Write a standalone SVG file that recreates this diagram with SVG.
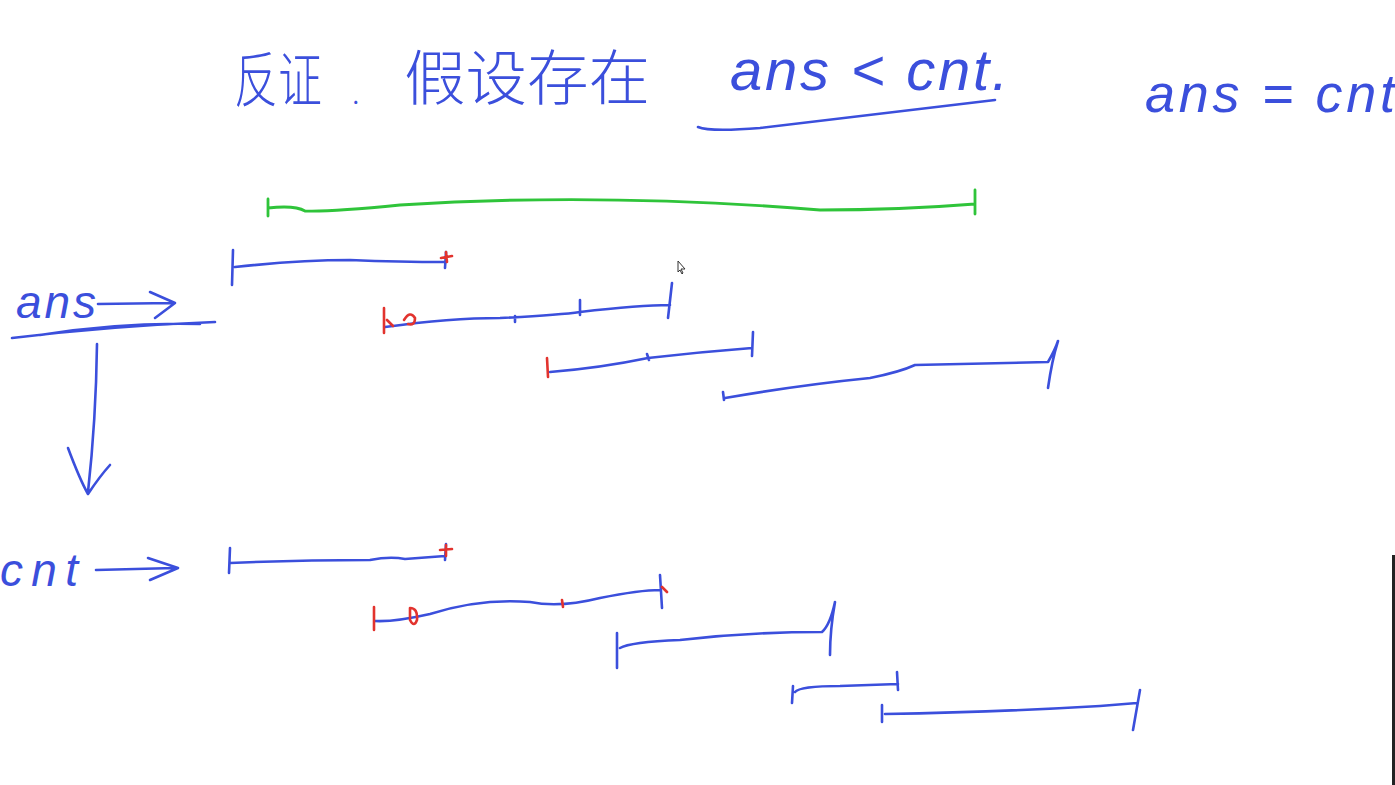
<svg xmlns="http://www.w3.org/2000/svg" width="1395" height="785" viewBox="0 0 1395 785">
<style>
.b{fill:none;stroke:#3b4fdc;stroke-width:2.6;stroke-linecap:round;stroke-linejoin:round}
.r{fill:none;stroke:#e2332e;stroke-width:2.6;stroke-linecap:round;stroke-linejoin:round}
.g{fill:none;stroke:#2fc43a;stroke-width:2.8;stroke-linecap:round;stroke-linejoin:round}
.t{fill:#3b4fdc;font-family:"Liberation Sans","Noto Sans CJK SC",sans-serif;font-style:italic}
.c{fill:#3b4fdc;font-family:"Noto Sans CJK SC",sans-serif;font-weight:300}
</style>
<rect width="1395" height="785" fill="#ffffff"/>
<g id="title">
<text class="c" x="234" y="102" font-size="60" textLength="88" lengthAdjust="spacingAndGlyphs">反证</text>
<text class="c" x="352" y="104" font-size="30">.</text>
<text class="c" x="404" y="100" font-size="60" textLength="246" lengthAdjust="spacingAndGlyphs">假设存在</text>
<text class="t" x="730" y="90" font-size="58" textLength="278">ans &lt; cnt.</text>
<path class="b" d="M698,127 Q710,132 760,128 Q880,114 995,100"/>
</g>
<g id="note">
<text class="t" x="1145" y="112" font-size="54" textLength="250">ans = cnt</text>
</g>
<g id="ans-label">
<text class="t" x="16" y="318" font-size="46" textLength="80">ans</text>
<path class="b" d="M98,304 L172,303 M150,292 L175,303 L155,318"/>
<path class="b" d="M12,338 Q110,326 215,322 M40,335 Q120,322 200,324"/>
<path class="b" d="M97,344 Q96,420 88,492 M68,448 Q80,480 88,494 Q100,476 110,465"/>
</g>
<g id="cnt-label">
<text class="t" x="0" y="586" font-size="46" textLength="78">cnt</text>
<path class="b" d="M96,570 L175,568 M148,558 L178,568 L150,580"/>
</g>
<g id="connectors">
<path class="g" d="M268,199 L268,216 M268,208 Q295,205 305,211 Q330,212 400,205 Q600,192 820,210 Q900,210 975,204 M975,190 L975,214"/>
<path class="b" d="M233,250 L232,285 M235,267 Q300,260 350,260 Q400,262 445,262 M446,252 L445,268"/>
<path class="r" d="M441,258 L452,256 M446,252 L447,262"/>
<path class="b" d="M385,327 Q450,318 500,318 Q560,315 580,312 Q640,305 670,305 M672,283 L668,318 M580,300 L580,315 M515,316 L515,322"/>
<path class="r" d="M384,308 L384,333 M387,320 L393,326 M404,320 Q410,310 415,318 Q415,326 408,324"/>
<path class="b" d="M550,372 Q600,368 648,358 Q700,352 752,348 M753,332 L752,356 M647,354 L649,360"/>
<path class="r" d="M547,358 L548,377"/>
<path class="b" d="M723,392 L724,400 M725,398 Q800,385 870,378 Q900,372 915,365 L1048,362 M1048,362 Q1055,350 1058,341 Q1052,360 1048,388"/>
<path class="b" d="M230,548 L229,573 M230,563 Q300,560 370,560 Q390,556 405,559 L445,556 M446,544 L445,560"/>
<path class="r" d="M440,550 L452,549 M446,545 L446,556"/>
<path class="b" d="M375,621 Q395,622 430,614 Q480,598 530,602 Q560,608 600,598 Q640,590 660,590 M660,575 L662,608"/>
<path class="r" d="M374,607 L374,630 M410,608 Q418,608 417,620 Q414,628 410,620 Z M562,600 L563,607 M662,587 L667,592"/>
<path class="b" d="M617,633 L617,668 M620,648 Q630,642 680,640 Q750,632 822,632 Q830,625 835,602 Q830,630 830,655"/>
<path class="b" d="M792,703 L793,686 M795,692 Q800,686 840,686 L898,684 M897,672 L898,690"/>
<path class="b" d="M882,705 L882,722 M885,714 Q1000,712 1100,706 L1137,703 M1140,690 L1133,730"/>
<path fill="#ffffff" stroke="#333" stroke-width="1" d="M678,261 L678,272 L680,270 L682,274 L683,273 L681,269 L685,269 Z"/>
</g>
<rect x="1392" y="555" width="3" height="230" fill="#222"/>
</svg>
